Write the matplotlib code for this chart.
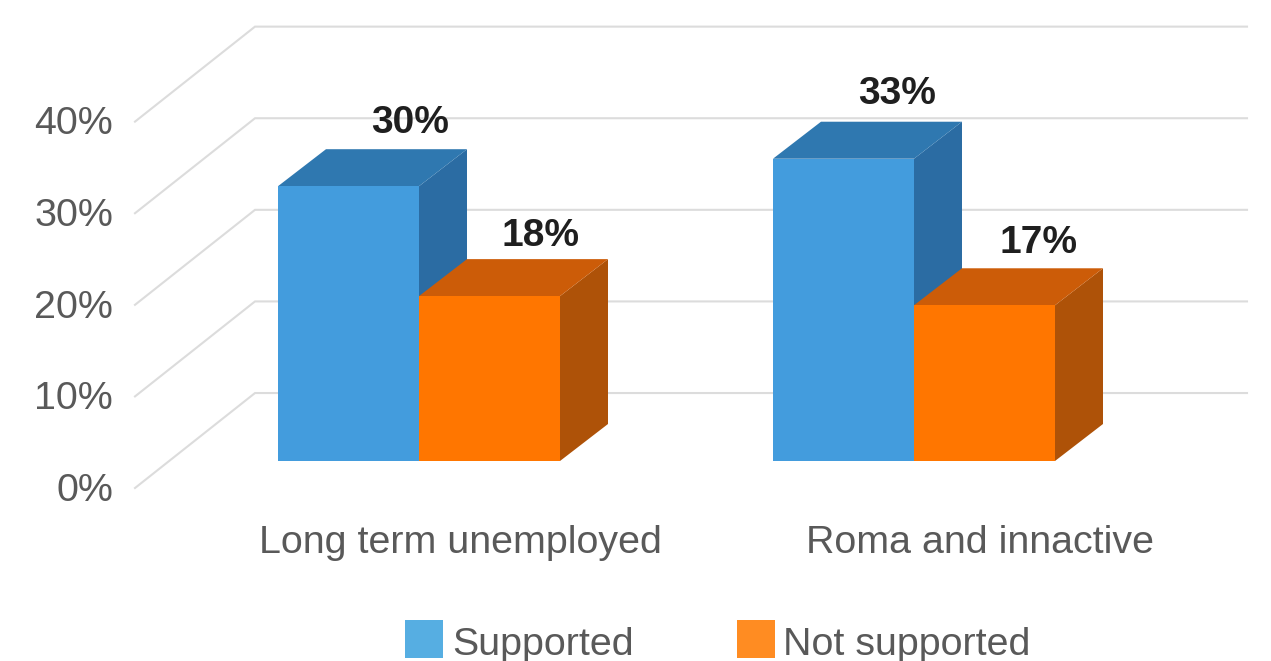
import matplotlib
matplotlib.use("Agg")
import matplotlib.pyplot as plt
from matplotlib.patches import Polygon, Rectangle

plt.rcParams["font.family"] = ["Liberation Sans", "DejaVu Sans"]

# Chart data
categories = ["Long term unemployed", "Roma and innactive"]
series_names = ["Supported", "Not supported"]
supported = [30, 33]
not_supported = [18, 17]
axis_ticks = [0, 10, 20, 30, 40]

# Canvas geometry: x runs in canvas units, y runs in percent
WIDTH, HEIGHT = 1271, 661
BASE_ROW = 461
UNITS_PER_PCT = 9.16
BAR_WIDTH = 141
GROUP_LEFT = [278, 773]
DEPTH_X, DEPTH_Y = 48, 37 / UNITS_PER_PCT
WALL_LEFT, WALL_CORNER, WALL_RIGHT = 135, 255, 1247
WALL_FRONT, WALL_BACK = -2.95, 7.42

GRID = "#DCDCDC"
TEXT = "#595959"
LABEL = "#1F1F1F"
TEXT_SIZE = 28.4
LABEL_SIZE = 28.0
PALETTE = {
    "Supported": dict(front="#439CDD", top="#2F78B0", side="#2B6CA3", key="#56AEE2"),
    "Not supported": dict(front="#FF7600", top="#CC5C08", side="#AE5208", key="#FF8C22"),
}


def row_to_pct(row):
    return (BASE_ROW - row) / UNITS_PER_PCT


fig = plt.figure(figsize=(WIDTH / 100, HEIGHT / 100), dpi=100, facecolor="white")
ax = fig.add_axes([0, 0, 1, 1])
ax.set_xlim(0, WIDTH)
ax.set_ylim(row_to_pct(HEIGHT), row_to_pct(0))
ax.axis("off")

# Floor-to-wall grid lines and their percent labels
for tick in axis_ticks:
    ax.plot(
        [WALL_LEFT, WALL_CORNER, WALL_RIGHT],
        [tick + WALL_FRONT, tick + WALL_BACK, tick + WALL_BACK],
        color=GRID, lw=1.5, solid_joinstyle="miter", zorder=1,
    )
    ax.text(113, tick + WALL_FRONT - 0.3, f"{tick}%", ha="right", va="center",
            fontsize=TEXT_SIZE, color=TEXT, zorder=5)


def draw_bar(left, value, colors):
    right = left + BAR_WIDTH
    ax.add_patch(Polygon(
        [(right, 0), (right + DEPTH_X, DEPTH_Y), (right + DEPTH_X, value + DEPTH_Y), (right, value)],
        closed=True, fc=colors["side"], ec="none", zorder=2,
    ))
    ax.add_patch(Polygon(
        [(left, value), (left + DEPTH_X, value + DEPTH_Y), (right + DEPTH_X, value + DEPTH_Y), (right, value)],
        closed=True, fc=colors["top"], ec="none", zorder=2,
    ))
    ax.add_patch(Rectangle((left, 0), BAR_WIDTH, value, fc=colors["front"], ec="none", zorder=2))


label_shift = {(0, 0): 132, (1, 0): 124, (0, 1): 122, (1, 1): 124}
label_lift = {(0, 0): 6.85, (1, 0): 7.1, (0, 1): 6.55, (1, 1): 6.75}

for g, left in enumerate(GROUP_LEFT):
    draw_bar(left, supported[g], PALETTE["Supported"])
    draw_bar(left + BAR_WIDTH, not_supported[g], PALETTE["Not supported"])
    ax.text(left + label_shift[(g, 0)], supported[g] + label_lift[(g, 0)], f"{supported[g]}%",
            ha="center", va="center", fontsize=LABEL_SIZE, fontweight="bold", color=LABEL, zorder=6)
    ax.text(left + BAR_WIDTH + label_shift[(g, 1)], not_supported[g] + label_lift[(g, 1)], f"{not_supported[g]}%",
            ha="center", va="center", fontsize=LABEL_SIZE, fontweight="bold", color=LABEL, zorder=6)

# Category captions under each group
for centre, name in zip([460, 980], categories):
    ax.text(centre, row_to_pct(543), name, ha="center", va="center",
            fontsize=TEXT_SIZE, color=TEXT, zorder=5)

# Legend keys and names
for key_left, text_left, name in zip([405, 737], [452, 783], series_names):
    ax.add_patch(Rectangle((key_left, row_to_pct(658)), 38, row_to_pct(620) - row_to_pct(658),
                           fc=PALETTE[name]["key"], ec="none", zorder=5))
    ax.text(text_left, row_to_pct(645), name, ha="left", va="center",
            fontsize=TEXT_SIZE, color=TEXT, zorder=5)

fig.savefig("out.png", dpi=100, facecolor="white")
